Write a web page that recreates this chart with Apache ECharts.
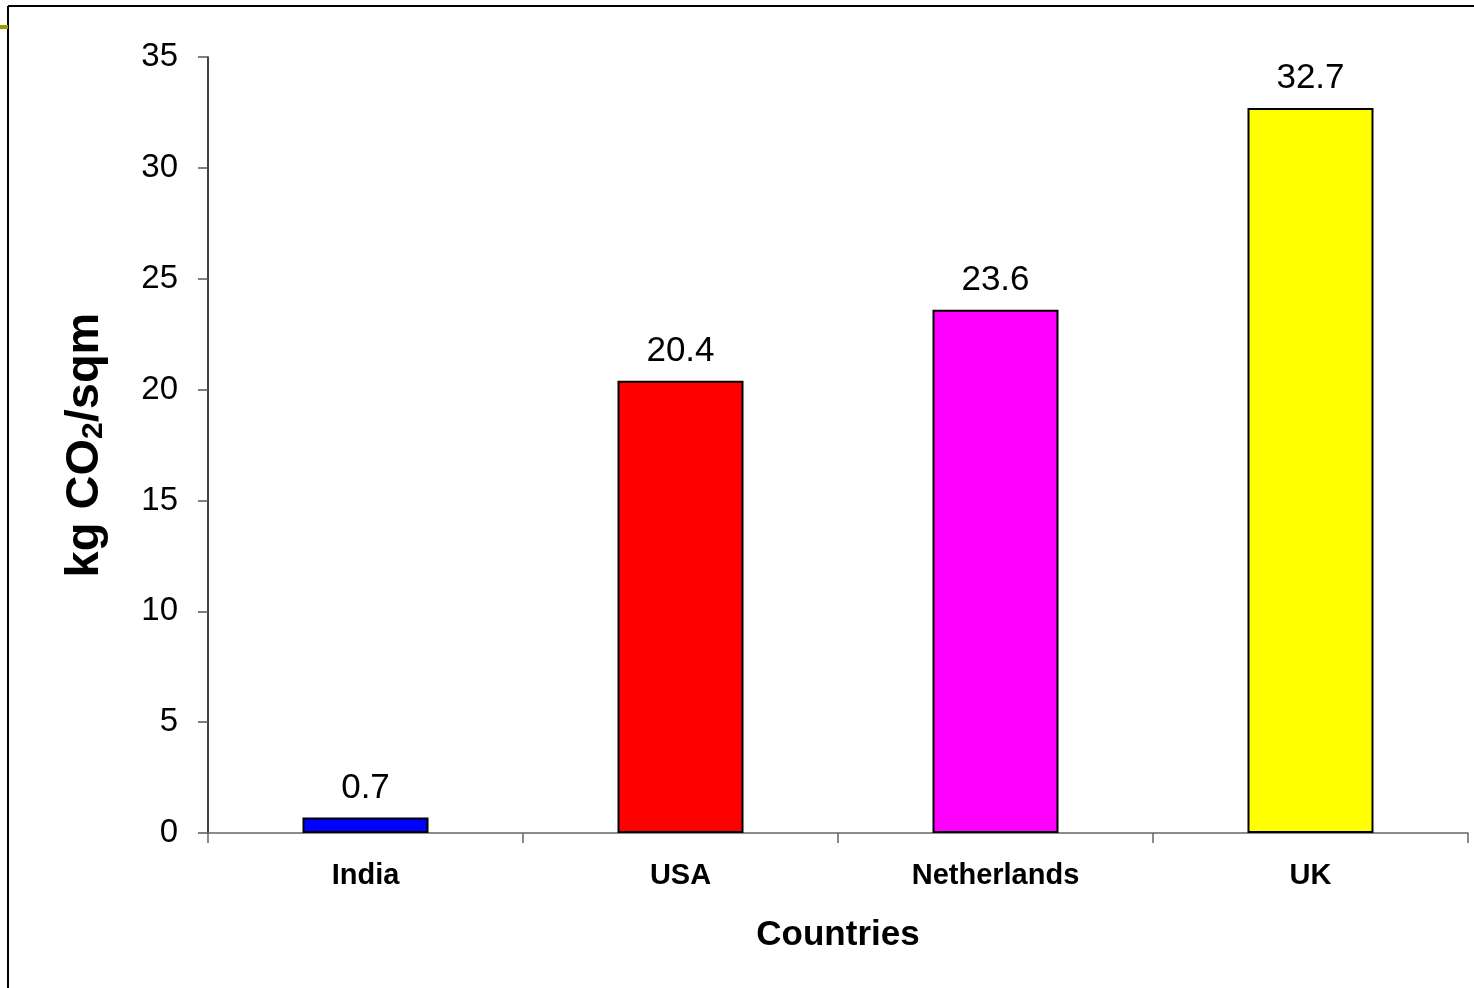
<!DOCTYPE html>
<html>
<head>
<meta charset="utf-8">
<style>
  html, body { margin: 0; padding: 0; background: #fff; }
  #chart { width: 1474px; height: 988px; }
</style>
<script src="https://cdn.jsdelivr.net/npm/echarts@6/dist/echarts.min.js"></script>
</head>
<body>
<div id="chart"></div>
<script>
// Embodied emissions per square metre, by country
const countries = ['India', 'USA', 'Netherlands', 'UK'];
const emissions = [0.7, 20.4, 23.6, 32.7];
const barColors = ['#0000ff', '#ff0000', '#ff00ff', '#ffff00'];
const yTicks = [0, 5, 10, 15, 20, 25, 30, 35];

const chart = echarts.init(document.getElementById('chart'));
const font = '"Liberation Sans", Arial, sans-serif';

chart.setOption({
  backgroundColor: '#ffffff',
  animation: false,
  grid: { left: 208, right: 6, top: 57, bottom: 155 },
  graphic: [
    // slide frame
    { type: 'line', shape: { x1: 8, y1: 6, x2: 1474, y2: 6 }, style: { stroke: '#000', lineWidth: 2 } },
    { type: 'line', shape: { x1: 8, y1: 6, x2: 8, y2: 988 }, style: { stroke: '#000', lineWidth: 2 } },
    { type: 'line', shape: { x1: 0, y1: 27, x2: 8, y2: 27 }, style: { stroke: '#999900', lineWidth: 4 } }
  ],
  xAxis: {
    type: 'category',
    data: countries,
    name: 'Countries',
    nameLocation: 'middle',
    nameGap: 85,
    nameTextStyle: { fontFamily: font, fontSize: 35, fontWeight: 'bold', color: '#000' },
    axisLine: { lineStyle: { color: '#666', width: 1.5 } },
    axisTick: { show: true, length: 10, alignWithLabel: false, lineStyle: { color: '#666', width: 1.5 } },
    axisLabel: { fontFamily: font, fontSize: 29, fontWeight: 'bold', color: '#000', margin: 28 },
    splitLine: { show: false }
  },
  yAxis: {
    type: 'value',
    min: yTicks[0],
    max: yTicks[yTicks.length - 1],
    interval: 5,
    name: 'kg CO{sub|2}/sqm',
    nameLocation: 'middle',
    nameRotate: 90,
    nameGap: 99,
    nameTextStyle: {
      fontFamily: font, fontSize: 47, fontWeight: 'bold', color: '#000',
      rich: {
        sub: { fontFamily: font, fontSize: 30, fontWeight: 'bold', color: '#000', padding: [18, 0, 0, 0] }
      }
    },
    axisLine: { show: true, lineStyle: { color: '#000', width: 1.5 } },
    axisTick: { show: true, inside: false, length: 10, lineStyle: { color: '#555', width: 1.5 } },
    axisLabel: { fontFamily: font, fontSize: 33, color: '#000', margin: 30 },
    splitLine: { show: false }
  },
  series: [{
    type: 'bar',
    barWidth: '40%',
    data: emissions.map((v, i) => ({
      value: v,
      itemStyle: { color: barColors[i] }
    })),
    itemStyle: { borderColor: '#000', borderWidth: 2 },
    label: {
      show: true,
      position: 'top',
      distance: 12,
      fontFamily: font,
      fontSize: 35,
      color: '#000'
    }
  }]
});
</script>
</body>
</html>
